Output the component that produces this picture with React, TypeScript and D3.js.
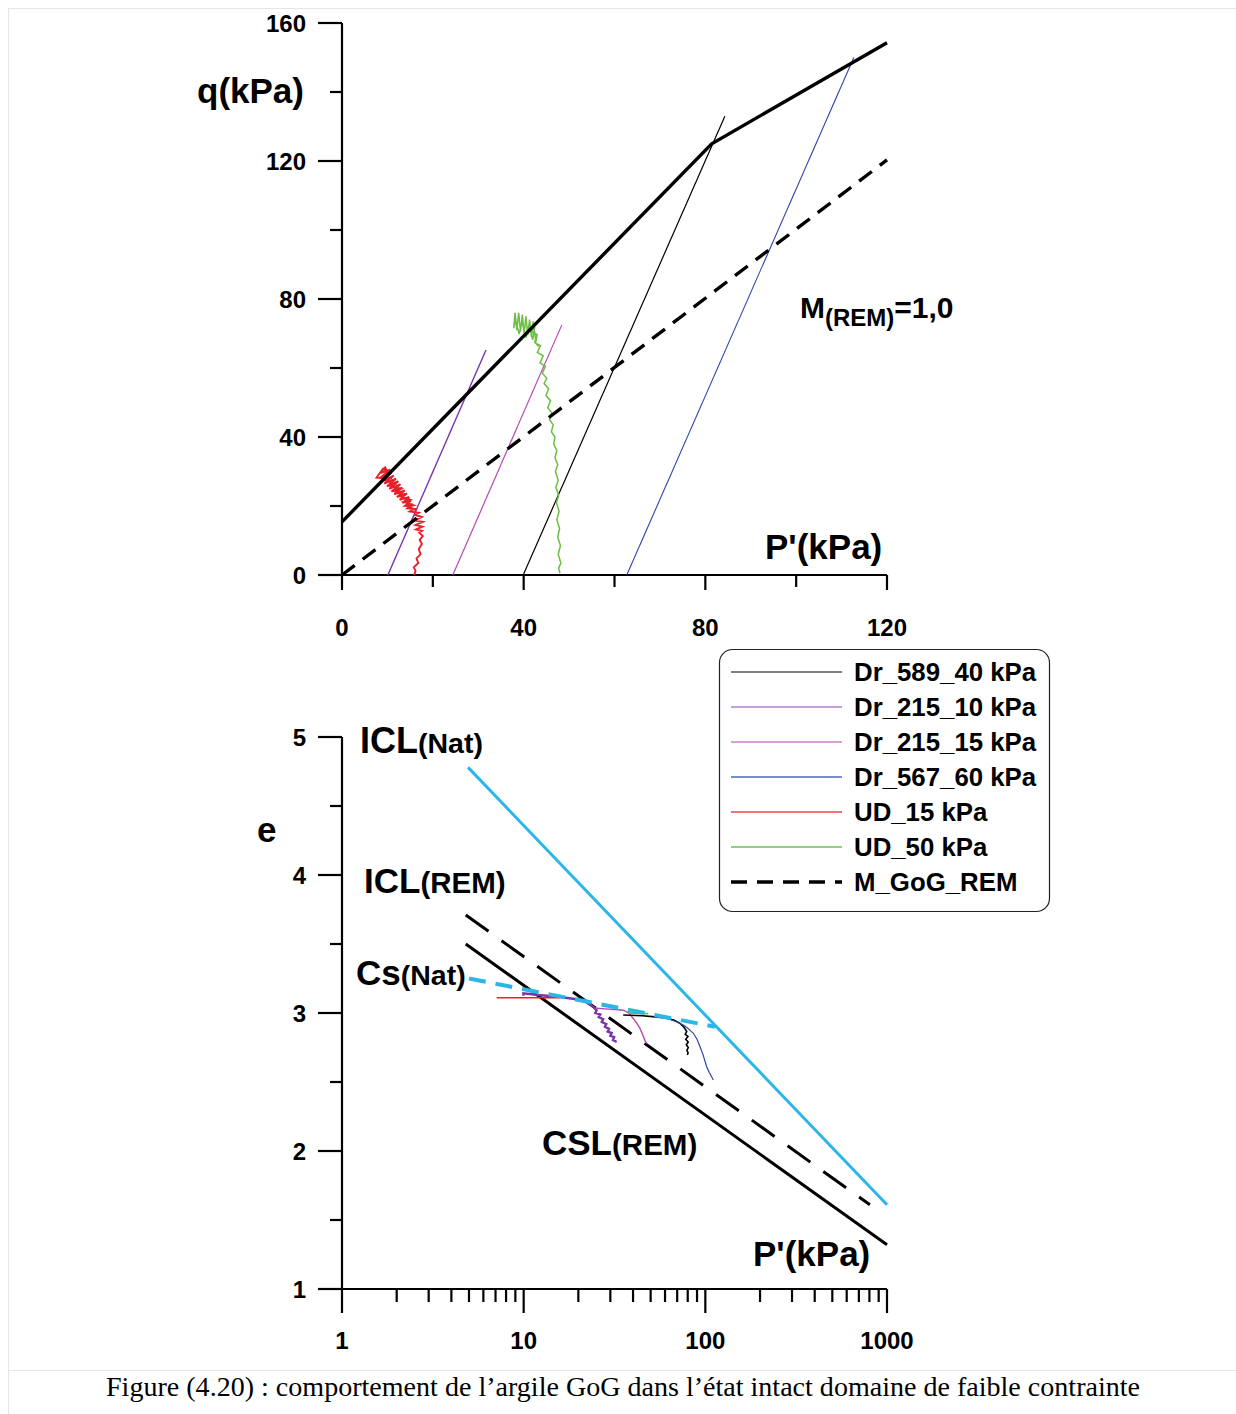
import React from "react";
import * as d3 from "d3";

// ---------- DATA ----------
const qTicksMajor = [0, 40, 80, 120, 160];
const qTicksMinor = [20, 60, 100, 140];
const pTicksMajor = [0, 40, 80, 120];
const pTicksMinor = [20, 60, 100];
const eTicksMajor = [1, 2, 3, 4, 5];
const eTicksMinor = [1.5, 2.5, 3.5, 4.5];
const logDecades = [1, 10, 100, 1000];
const logMinor = [2, 3, 4, 5, 6, 7, 8, 9, 20, 30, 40, 50, 60, 70, 80, 90, 200, 300, 400, 500, 600, 700, 800, 900];

// q-p plane
const envelopeNat: [number, number][] = [[0, 15.4], [81.4, 125.0], [120, 154.3]];
const critRem: [number, number][] = [[0, 0], [120, 120.3]];
const dr589_qp: [number, number][] = [[39.9, 0], [84.3, 133]];
const dr215_10_qp: [number, number][] = [[10.1, 0], [31.7, 65.2]];
const dr215_15_qp: [number, number][] = [[24.4, 0], [48.4, 72.5]];
const dr567_qp: [number, number][] = [[62.7, 0], [112.7, 150]];
const ud15_qp: [number, number][] = [
  [15.9, 0], [16.2, 1.2], [15.8, 2.2], [16.8, 3.5], [16.4, 4.8], [17.3, 6.0], [16.9, 7.5], [17.6, 9.0],
  [17.1, 10.2], [17.8, 11.3], [17.0, 12.3], [17.6, 12.8], [16.3, 13.2], [17.7, 14.0], [16.2, 14.5],
  [17.8, 15.4], [16.0, 15.8], [17.6, 16.8], [16.1, 17.4], [16.9, 18.0], [14.9, 18.4], [16.0, 19.2],
  [14.4, 19.3], [15.6, 20.5], [13.9, 20.1], [15.2, 21.6], [13.3, 20.9], [14.8, 22.6], [12.7, 21.8],
  [14.3, 23.6], [12.1, 22.6], [13.8, 24.5], [11.5, 23.4], [13.3, 25.3], [10.9, 24.2], [12.9, 26.3],
  [10.4, 25.0], [12.4, 27.2], [9.9, 25.7], [11.9, 27.9], [9.3, 26.5], [11.4, 28.8], [8.9, 27.3],
  [10.9, 29.8], [8.2, 28.0], [10.6, 30.5], [8.3, 29.5], [9.5, 31.2], [10.2, 29.6], [9.0, 30.8],
  [7.6, 28.2], [11.0, 28.0], [9.2, 27.6], [12.0, 26.4], [10.3, 26.0], [13.0, 25.0], [11.3, 24.4],
  [14.0, 23.2], [12.4, 23.0], [15.0, 21.8], [13.6, 21.2], [15.8, 20.2], [14.6, 19.8], [16.4, 18.8]
];
const ud50_qp: [number, number][] = [
  [48.0, 0.5], [47.7, 2], [48.2, 3.5], [47.6, 6], [48.1, 8.5], [47.5, 11], [47.9, 13.5], [47.3, 16], [47.8, 18.5],
  [47.2, 21], [47.7, 23], [47.1, 25.5], [47.6, 27.5], [47.0, 30], [47.5, 32], [46.9, 34], [47.3, 36], [46.6, 38],
  [46.9, 40], [46.1, 41.5], [46.5, 43.5], [45.7, 45], [46.2, 47], [45.3, 48.5], [45.9, 50.5], [44.9, 52],
  [45.5, 54], [44.5, 55.5], [45.1, 57], [44.1, 58.5], [44.8, 60.5], [43.6, 61.5], [44.3, 63.5], [43.0, 64.5],
  [43.7, 66.5], [42.6, 67.2], [42.9, 69], [42.6, 68.5], [42.1, 73.5], [41.7, 69], [41.3, 74], [40.9, 69.5],
  [40.5, 75], [40.1, 70], [39.7, 75.5], [39.3, 70.5], [38.9, 76], [38.5, 71], [38.1, 76], [37.8, 71.5],
  [38.2, 74], [39.0, 69.8], [39.6, 73.5], [40.5, 68.8], [41.2, 72.5], [42.0, 68.2], [42.4, 71.5], [41.6, 70.8],
  [43.0, 69.6], [42.4, 67.6], [43.3, 66.2]
];

// e - log p' plane
const iclNat: [number, number][] = [[4.94, 4.78], [1000, 1.61]];
const iclRem: [number, number][] = [[4.8, 3.71], [805, 1.61]];
const cslRem: [number, number][] = [[4.8, 3.5], [1000, 1.32]];
const csNat: [number, number][] = [[5.0, 3.25], [113, 2.9]];
const ud15_e: [number, number][] = [[7.1, 3.11], [15.8, 3.11]];
const ud50_e: [number, number][] = [[37.7, 3.0], [48.5, 2.995]];
const dr215_10_e: [number, number][] = [
  [9.97, 3.125], [9.97, 3.143], [12, 3.13], [15, 3.12], [19.6, 3.10], [22, 3.08], [24.1, 3.046], [25.2, 3.02],
  [24.8, 3.0], [26.4, 2.99], [25.9, 2.97], [27.4, 2.955], [26.9, 2.935], [28.5, 2.92], [28.0, 2.9], [29.5, 2.885],
  [29.0, 2.865], [30.5, 2.855], [30.0, 2.835], [31.5, 2.825], [31.0, 2.805], [32.5, 2.79]
];
const dr215_15_e: [number, number][] = [
  [25.2, 3.034], [28, 3.03], [32, 3.025], [35.3, 3.02], [38, 3.0], [40.1, 2.96], [42, 2.925], [43.6, 2.89],
  [45, 2.85], [46.5, 2.80], [47.6, 2.78], [46.6, 2.79]
];
const dr589_e: [number, number][] = [
  [35.3, 2.986], [45, 2.98], [55, 2.97], [61.1, 2.962], [67, 2.95], [72.6, 2.925], [76, 2.9], [79, 2.865],
  [77.5, 2.845], [80.2, 2.83], [78, 2.81], [80.5, 2.79], [78.6, 2.77], [80.6, 2.75], [79.2, 2.73], [80.4, 2.71],
  [79.5, 2.696]
];
const dr567_e: [number, number][] = [
  [61.1, 2.962], [68, 2.94], [75.7, 2.913], [80, 2.89], [85.9, 2.853], [90, 2.81], [93.4, 2.757], [97, 2.70],
  [101.6, 2.612], [105, 2.57], [110.7, 2.514]
];

const legendNames = ["Dr_589_40 kPa", "Dr_215_10 kPa", "Dr_215_15 kPa", "Dr_567_60 kPa", "UD_15 kPa", "UD_50 kPa", "M_GoG_REM"];
const legendColors = ["#555555", "#b07ccc", "#cc7ccc", "#4a66c0", "#ee4444", "#6cc050", "#000000"];

const caption = "Figure (4.20) : comportement de l\u2019argile GoG dans l\u2019\u00e9tat intact domaine de faible contrainte";

// ---------- COLORS ----------
const C_BLACK = "#000";
const C_PURPLE = "#7a35a8";
const C_MAGENTA = "#b648b6";
const C_BLUE = "#2a46a8";
const C_RED = "#e8202a";
const C_GREEN = "#6cbe45";
const C_CYAN = "#2bb6e8";

const FONT = "'Liberation Sans', Arial, sans-serif";

export default function App() {
  const xT = d3.scaleLinear().domain([0, 120]).range([342, 887]);
  const yT = d3.scaleLinear().domain([0, 160]).range([575, 23]);
  const xB = d3.scaleLog().domain([1, 1000]).range([342, 887]);
  const yB = d3.scaleLinear().domain([1, 5]).range([1289, 737]);

  const lineT = d3.line<[number, number]>().x(d => xT(d[0])).y(d => yT(d[1]));
  const lineB = d3.line<[number, number]>().x(d => xB(d[0])).y(d => yB(d[1]));

  const tickLab = { fontFamily: FONT, fontWeight: 700, fontSize: 24, fill: "#000" } as const;
  const bold = { fontFamily: FONT, fontWeight: 700, fill: "#000" } as const;

  return (
    <svg width={1236} height={1414} style={{ position: "absolute", left: 0, top: 0, background: "#fff" }}>
      {/* frame */}
      <line x1={8} y1={8.5} x2={1236} y2={8.5} stroke="#e6e6e6" strokeWidth={1.2} />
      <line x1={8.5} y1={8} x2={8.5} y2={1414} stroke="#e6e6e6" strokeWidth={1.2} />
      <line x1={8} y1={1370.5} x2={1236} y2={1370.5} stroke="#e6e6e6" strokeWidth={1.2} />

      {/* ===== TOP CHART ===== */}
      <g>
        <line x1={xT(0)} y1={yT(160)} x2={xT(0)} y2={yT(0)} stroke="#000" strokeWidth={2.2} />
        <line x1={xT(0)} y1={yT(0)} x2={xT(120)} y2={yT(0)} stroke="#000" strokeWidth={2.2} />
        {qTicksMajor.map(v => (
          <g key={"qM" + v}>
            <line x1={xT(0) - 24} x2={xT(0)} y1={yT(v)} y2={yT(v)} stroke="#000" strokeWidth={2.2} />
            <text x={306} y={yT(v) + 8.5} textAnchor="end" {...tickLab}>{v}</text>
          </g>
        ))}
        {qTicksMinor.map(v => (
          <line key={"qm" + v} x1={xT(0) - 12} x2={xT(0)} y1={yT(v)} y2={yT(v)} stroke="#000" strokeWidth={2.2} />
        ))}
        {pTicksMajor.map(v => (
          <g key={"pM" + v}>
            <line x1={xT(v)} x2={xT(v)} y1={yT(0)} y2={yT(0) + 15} stroke="#000" strokeWidth={2.2} />
            <text x={xT(v)} y={636} textAnchor="middle" {...tickLab}>{v}</text>
          </g>
        ))}
        {pTicksMinor.map(v => (
          <line key={"pm" + v} x1={xT(v)} x2={xT(v)} y1={yT(0)} y2={yT(0) + 12} stroke="#000" strokeWidth={2.2} />
        ))}

        {/* stress paths */}
        <path d={lineT(dr589_qp)!} fill="none" stroke={C_BLACK} strokeWidth={1.2} />
        <path d={lineT(dr215_10_qp)!} fill="none" stroke={C_PURPLE} strokeWidth={1.4} />
        <path d={lineT(dr215_15_qp)!} fill="none" stroke={C_MAGENTA} strokeWidth={1.2} />
        <path d={lineT(dr567_qp)!} fill="none" stroke={C_BLUE} strokeWidth={1.1} />
        <path d={lineT(ud50_qp)!} fill="none" stroke={C_GREEN} strokeWidth={1.5} />
        <path d={lineT(ud15_qp)!} fill="none" stroke={C_RED} strokeWidth={1.9} />

        {/* envelopes */}
        <path d={lineT(envelopeNat)!} fill="none" stroke="#000" strokeWidth={3.4} />
        <path d={lineT(critRem)!} fill="none" stroke="#000" strokeWidth={3.4} strokeDasharray="16 10" />

        <text x={197} y={103} {...bold} fontSize={35}>q(kPa)</text>
        <text x={765} y={559} {...bold} fontSize={35}>P'(kPa)</text>
        <text x={800} y={318} {...bold} fontSize={30}>
          M<tspan fontSize={24} dy={8}>(REM)</tspan><tspan fontSize={30} dy={-8}>=1,0</tspan>
        </text>
      </g>

      {/* ===== LEGEND ===== */}
      <g>
        <rect x={719.5} y={649.5} width={330} height={262} rx={13} ry={13} fill="#fff" stroke="#222" strokeWidth={1.2} />
        {legendNames.map((n, i) => {
          const y = 672 + i * 35;
          const isDash = i === legendNames.length - 1;
          return (
            <g key={n}>
              <line x1={731} x2={842} y1={y} y2={y} stroke={legendColors[i]}
                strokeWidth={isDash ? 3.4 : 1.3} strokeDasharray={isDash ? "16 10" : undefined} />
              <text x={854} y={y + 9} {...bold} fontSize={25.8}>{n}</text>
            </g>
          );
        })}
      </g>

      {/* ===== BOTTOM CHART ===== */}
      <g>
        <line x1={xB(1)} y1={yB(5)} x2={xB(1)} y2={yB(1)} stroke="#000" strokeWidth={2.2} />
        <line x1={xB(1)} y1={yB(1)} x2={xB(1000)} y2={yB(1)} stroke="#000" strokeWidth={2.2} />
        {eTicksMajor.map(v => (
          <g key={"eM" + v}>
            <line x1={xB(1) - 24} x2={xB(1)} y1={yB(v)} y2={yB(v)} stroke="#000" strokeWidth={2.2} />
            <text x={306} y={yB(v) + 8.5} textAnchor="end" {...tickLab}>{v}</text>
          </g>
        ))}
        {eTicksMinor.map(v => (
          <line key={"em" + v} x1={xB(1) - 12} x2={xB(1)} y1={yB(v)} y2={yB(v)} stroke="#000" strokeWidth={2.2} />
        ))}
        {logDecades.map(v => (
          <g key={"lM" + v}>
            <line x1={xB(v)} x2={xB(v)} y1={yB(1)} y2={yB(1) + 24} stroke="#000" strokeWidth={2.2} />
            <text x={xB(v)} y={1349} textAnchor="middle" {...tickLab}>{v}</text>
          </g>
        ))}
        {logMinor.map(v => (
          <line key={"lm" + v} x1={xB(v)} x2={xB(v)} y1={yB(1)} y2={yB(1) + 13} stroke="#000" strokeWidth={2.2} />
        ))}

        {/* lines */}
        <path d={lineB(iclNat)!} fill="none" stroke={C_CYAN} strokeWidth={3} />
        <path d={lineB(iclRem)!} fill="none" stroke="#000" strokeWidth={3} strokeDasharray="28 16" />
        <path d={lineB(cslRem)!} fill="none" stroke="#000" strokeWidth={3} />

        {/* test curves */}
        <path d={lineB(ud15_e)!} fill="none" stroke={C_RED} strokeWidth={1.6} />
        <path d={lineB(dr215_10_e)!} fill="none" stroke={C_PURPLE} strokeWidth={2.4} />
        <path d={lineB(dr215_15_e)!} fill="none" stroke={C_MAGENTA} strokeWidth={1.4} />
        <path d={lineB(ud50_e)!} fill="none" stroke={C_GREEN} strokeWidth={1.8} />
        <path d={lineB(dr589_e)!} fill="none" stroke={C_BLACK} strokeWidth={1.6} />
        <path d={lineB(dr567_e)!} fill="none" stroke={C_BLUE} strokeWidth={1.2} />

        <path d={lineB(csNat)!} fill="none" stroke={C_CYAN} strokeWidth={4} strokeDasharray="17 10" />

        <text x={360} y={753} {...bold} fontSize={36}>ICL<tspan fontSize={28.5}>(Nat)</tspan></text>
        <text x={364} y={893} {...bold} fontSize={35}>ICL<tspan fontSize={29.5}>(REM)</tspan></text>
        <text x={356} y={985} {...bold} fontSize={35}>Cs<tspan fontSize={28.5}>(Nat)</tspan></text>
        <text x={542} y={1155} {...bold} fontSize={35}>CSL<tspan fontSize={29.5}>(REM)</tspan></text>
        <text x={753} y={1266} {...bold} fontSize={35}>P'(kPa)</text>
        <text x={257} y={842} {...bold} fontSize={35}>e</text>
      </g>

      {/* caption */}
      <text x={623} y={1396} textAnchor="middle" fontFamily="'Liberation Serif', 'DejaVu Serif', serif" fontSize={27}
        textLength={1034} lengthAdjust="spacingAndGlyphs" fill="#000">{caption}</text>
    </svg>
  );
}
